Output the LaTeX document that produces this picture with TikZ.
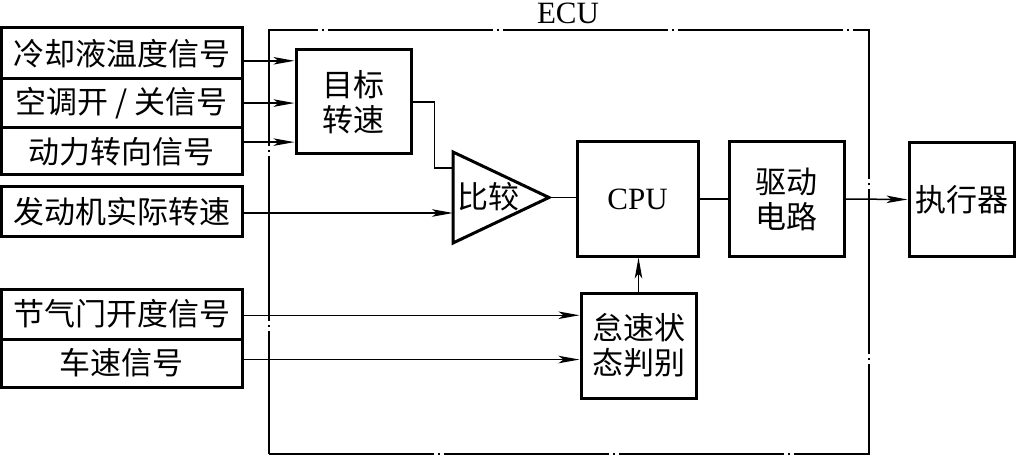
\documentclass[tikz,border=0pt]{standalone}
\usepackage{fontspec}
\setmainfont{Liberation Serif}
\newfontfamily\cjk{Noto Sans CJK SC}
\usetikzlibrary{arrows.meta,calc}
\begin{document}
\begin{tikzpicture}[x=1pt,y=-1pt,
  box/.style={draw,line width=3pt,inner sep=0pt,font=\cjk\fontsize{31}{35}\selectfont,align=center},
  conn/.style={line width=1.5pt},
  arr/.style={conn,-{Stealth[length=21pt,width=7.5pt,inset=5pt]}},
  ecubox/.style={draw,line width=1.3pt,dash pattern=on 165pt off 4pt on 2pt off 4pt,inner sep=0pt},
  lat/.style={font=\fontsize{31}{35}\selectfont}]
\useasboundingbox (0,0) rectangle (1022,457);
% ECU frame
\node[ecubox,minimum width=600pt,minimum height=424pt] (ecu) at (569,242) {};
\node[lat,anchor=south,inner sep=0pt] (ecul) at (568,24) {ECU};
% left input boxes
\node[box,minimum width=241pt,minimum height=51pt] (b1) at (121.5,53.5) {冷却液温度信号};
\node[box,minimum width=241pt,minimum height=49pt] (b2) at (121.5,103.5) {空调开 / 关信号};
\node[box,minimum width=241pt,minimum height=47pt] (b3) at (121.5,151.5) {动力转向信号};
\node[box,minimum width=241pt,minimum height=49pt] (b4) at (121.5,211.5) {发动机实际转速};
\node[box,minimum width=241pt,minimum height=50pt] (b5) at (121.5,314) {节气门开度信号};
\node[box,minimum width=241pt,minimum height=48pt] (b6) at (121.5,363) {车速信号};
% inner blocks
\node[box,minimum width=115pt,minimum height=104pt] (t) at (353.5,102) {目标\\转速};
\node[box,minimum width=121pt,minimum height=114pt,font=\fontsize{31}{35}\selectfont] (cpu) at (637.5,199) {CPU};
\node[box,minimum width=115pt,minimum height=114pt] (drv) at (786.5,199) {驱动\\电路};
\node[box,minimum width=105pt,minimum height=113pt] (act) at (961.5,199.5) {执行器};
\node[box,minimum width=115pt,minimum height=105pt] (idle) at (638.5,345.5) {怠速状\\态判别};
% comparator
\coordinate (cT) at (453,152);
\coordinate (cB) at (453,243);
\coordinate (cA) at (549,197.5);
\draw[line width=3pt,line join=miter] (cT) -- (cA) -- (cB) -- cycle;
\node[font=\cjk\fontsize{31}{35}\selectfont,inner sep=0pt] (cmpl) at (488,197) {比较};
\coordinate (cin1) at (453,168);
\coordinate (cin2) at (453,213);
% attach points
\coordinate (t1) at ($(t.north west)!0.115!(t.south west)$);
\coordinate (t2) at ($(t.north west)!0.51!(t.south west)$);
\coordinate (t3) at ($(t.north west)!0.875!(t.south west)$);
\coordinate (i1) at ($(idle.north west)!0.22!(idle.south west)$);
\coordinate (i2) at ($(idle.north west)!0.63!(idle.south west)$);
% connectors
\draw[arr] (b1.east |- t1) -- (t1);
\draw[arr] (b2.east |- t2) -- (t2);
\draw[arr] (b3.east |- t3) -- (t3);
\draw[conn] (t.east) -- ++(22,0) |- (cin1);
\draw[arr] (b4.east |- cin2) -- (cin2);
\draw[conn] (cA) -- (cpu.west |- cA);
\draw[conn] (cpu.east) -- (drv.west);
\draw[arr] (drv.east) -- (act.west);
\draw[arr] (idle.north) -- (cpu.south -| idle.north);
\draw[arr] (b5.east |- i1) -- (i1);
\draw[arr] (b6.east |- i2) -- (i2);
\end{tikzpicture}
\end{document}
